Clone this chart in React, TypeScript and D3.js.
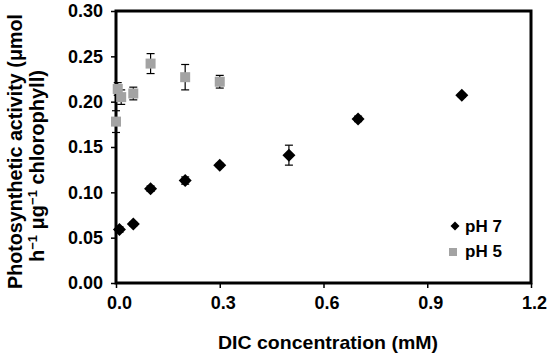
import { useEffect, useRef } from 'react'
import * as d3 from 'd3'

// pH 7 series (diamonds)
const ph7Dic = [0.01, 0.05, 0.1, 0.2, 0.3, 0.5, 0.7, 1.0]
const ph7Rate = [0.059, 0.065, 0.104, 0.113, 0.130, 0.141, 0.181, 0.207]
const ph7Err = [0.003, 0.002, 0.003, 0.004, 0.002, 0.011, 0.003, 0.002]

// pH 5 series (grey squares)
const ph5Dic = [0.0, 0.005, 0.015, 0.05, 0.1, 0.2, 0.3]
const ph5Rate = [0.178, 0.214, 0.205, 0.209, 0.242, 0.227, 0.222]
const ph5Err = [0.012, 0.007, 0.008, 0.007, 0.011, 0.014, 0.007]

const xTicks = [0, 0.3, 0.6, 0.9, 1.2]
const yTicks = [0, 0.05, 0.1, 0.15, 0.2, 0.25, 0.3]
const seriesNames = ['pH 7', 'pH 5']

const FONT = 'Liberation Sans, Arial, sans-serif'
const GREY = '#a3a3a3'

export default function App() {
  const ref = useRef<SVGSVGElement>(null)

  useEffect(() => {
    if (!ref.current) return
    const el = ref.current
    const width = 550
    const height = 356
    const margin = { top: 11, right: 19, bottom: 73, left: 116 }
    const iW = width - margin.left - margin.right
    const iH = height - margin.top - margin.bottom

    d3.select(el).selectAll('*').remove()

    const svg = d3.select(el)
      .append('g')
      .attr('transform', `translate(${margin.left},${margin.top})`)

    const x = d3.scaleLinear().domain([0, 1.2]).range([0, iW])
    const y = d3.scaleLinear().domain([0, 0.3]).range([iH, 0])

    // y axis
    svg.append('g')
      .call(d3.axisLeft(y).tickValues(yTicks).tickSize(5).tickPadding(8).tickFormat(d3.format('.2f')))
      .call(g => {
        g.select('.domain').remove()
        g.selectAll('line').attr('stroke', '#000').attr('stroke-width', 1.5)
        g.selectAll('text').attr('fill', '#000').attr('font-size', '18px').attr('font-weight', 'bold').attr('font-family', FONT)
      })

    // x axis
    svg.append('g')
      .attr('transform', `translate(0,${iH})`)
      .call(d3.axisBottom(x).tickValues(xTicks).tickSize(5).tickPadding(8).tickFormat(d3.format('.1f')))
      .call(g => {
        g.select('.domain').remove()
        g.selectAll('line').attr('stroke', '#000').attr('stroke-width', 1.5)
        g.selectAll('text').attr('fill', '#000').attr('font-size', '18px').attr('font-weight', 'bold').attr('font-family', FONT).attr('dx', '3px')
      })

    // frame
    svg.append('rect')
      .attr('x', 0).attr('y', 0).attr('width', iW).attr('height', iH)
      .attr('fill', 'none').attr('stroke', '#000').attr('stroke-width', 3)

    const errBars = (xs: number[], ys: number[], es: number[]) => {
      const g = svg.append('g').attr('stroke', '#000').attr('stroke-width', 1.2)
      xs.forEach((xv, i) => {
        if (es[i] <= 0) return
        const cx = x(xv)
        const y0 = y(ys[i] - es[i])
        const y1 = y(ys[i] + es[i])
        g.append('line').attr('x1', cx).attr('x2', cx).attr('y1', y0).attr('y2', y1)
        g.append('line').attr('x1', cx - 4).attr('x2', cx + 4).attr('y1', y0).attr('y2', y0)
        g.append('line').attr('x1', cx - 4).attr('x2', cx + 4).attr('y1', y1).attr('y2', y1)
      })
    }

    errBars(ph5Dic, ph5Rate, ph5Err)
    errBars(ph7Dic, ph7Rate, ph7Err)

    svg.append('g')
      .selectAll('rect')
      .data(ph5Dic.map((d, i) => ({ d, v: ph5Rate[i] })))
      .join('rect')
      .attr('x', p => x(p.d) - 5)
      .attr('y', p => y(p.v) - 5)
      .attr('width', 10)
      .attr('height', 10)
      .attr('fill', GREY)

    const diamond = (r: number) => `M0,${-r}L${r},0L0,${r}L${-r},0Z`

    svg.append('g')
      .selectAll('path')
      .data(ph7Dic.map((d, i) => ({ d, v: ph7Rate[i] })))
      .join('path')
      .attr('transform', p => `translate(${x(p.d)},${y(p.v)})`)
      .attr('d', diamond(6.5))
      .attr('fill', '#000')

    // legend
    const lg = d3.select(el).append('g').attr('transform', 'translate(455,226)')
    lg.append('path').attr('d', diamond(4.5)).attr('fill', '#000')
    lg.append('rect').attr('x', -6).attr('y', 22).attr('width', 8).attr('height', 8).attr('fill', GREY)
    lg.selectAll('text')
      .data(seriesNames)
      .join('text')
      .attr('x', 10)
      .attr('y', (_, i) => 5.5 + i * 25.5)
      .attr('font-size', '17px')
      .attr('font-weight', 'bold')
      .attr('font-family', FONT)
      .text(d => d)

    // axis titles
    d3.select(el).append('text')
      .attr('x', 328)
      .attr('y', 349)
      .attr('text-anchor', 'middle')
      .attr('font-size', '19px')
      .attr('font-weight', 'bold')
      .attr('font-family', FONT)
      .attr('textLength', 220)
      .attr('lengthAdjust', 'spacingAndGlyphs')
      .text('DIC concentration (mM)')

    const yt = d3.select(el).append('g')
      .attr('transform', 'translate(0,152) rotate(-90)')
      .attr('font-size', '20px')
      .attr('font-weight', 'bold')
      .attr('font-family', FONT)
    yt.append('text')
      .attr('x', -137).attr('y', 22)
      .attr('textLength', 275)
      .attr('lengthAdjust', 'spacingAndGlyphs')
      .text('Photosynthetic activity (μmol')
    const l2 = yt.append('text').attr('x', -110).attr('y', 44)
    l2.append('tspan').text('h')
    l2.append('tspan').attr('font-size', '13px').attr('dy', -7).text('−1')
    l2.append('tspan').attr('dy', 7).text('  μg')
    l2.append('tspan').attr('font-size', '13px').attr('dy', -7).text('−1')
    l2.append('tspan').attr('dy', 7).text('  chlorophyll)')
  }, [])

  return (
    <svg
      ref={ref}
      width={550}
      height={356}
      style={{ position: 'absolute', left: 0, top: 0, background: '#fff', display: 'block' }}
    />
  )
}
